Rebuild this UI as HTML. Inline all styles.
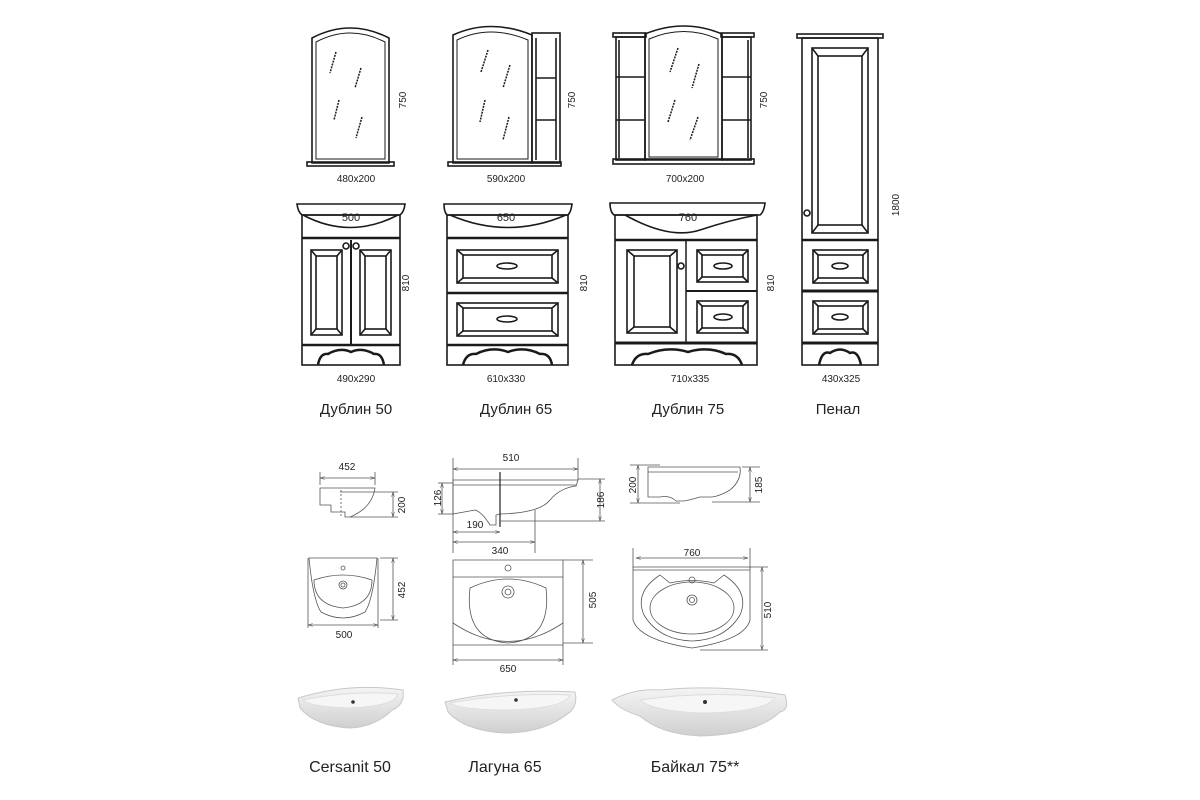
<!DOCTYPE html>
<html><head><meta charset="utf-8"><style>
html,body{margin:0;padding:0;background:#fff;}
svg{display:block}
text{font-family:"Liberation Sans",sans-serif;fill:#222}
.s{font-size:10px}
.n{font-size:15px}
</style></head><body>
<svg width="1200" height="800" viewBox="0 0 1200 800" xmlns="http://www.w3.org/2000/svg">
<defs>
<marker id="a" viewBox="0 0 10 10" refX="10" refY="5" markerWidth="6" markerHeight="6" orient="auto-start-reverse"><path d="M0,2 L10,5 L0,8" fill="none" stroke="#444"/></marker>
<linearGradient id="g" x1="0" y1="0" x2="0" y2="1"><stop offset="0" stop-color="#f4f4f4"/><stop offset="0.5" stop-color="#e2e2e2"/><stop offset="1" stop-color="#cfcfcf"/></linearGradient>
</defs>
<g fill="none" stroke="#1a1a1a" stroke-width="1.6">
<!-- Mirror 1 -->
<path d="M312,38 Q350,18 389,38 L389,163 L312,163 Z"/>
<path d="M316,42 Q350,24 385,42 L385,159 L316,159 Z" stroke-width="1"/>
<rect x="307" y="162" width="87" height="4"/>
<g stroke-width="1.5" stroke-dasharray="2 1"><line x1="336" y1="52" x2="330" y2="73"/><line x1="361" y1="68" x2="355" y2="88"/><line x1="339" y1="100" x2="334" y2="120"/><line x1="362" y1="117" x2="356" y2="138"/></g>
<!-- Mirror 2 -->
<path d="M453,35 Q490,18 532,35 L532,163 L453,163 Z"/>
<path d="M457,40 Q490,24 528,40 L528,159 L457,159 Z" stroke-width="1"/>
<rect x="532" y="33" width="28" height="130"/>
<line x1="536" y1="38" x2="536" y2="160"/><line x1="556" y1="38" x2="556" y2="160"/>
<line x1="536" y1="78" x2="556" y2="78"/><line x1="536" y1="120" x2="556" y2="120"/>
<rect x="448" y="162" width="113" height="4"/>
<g stroke-width="1.5" stroke-dasharray="2 1"><line x1="488" y1="50" x2="481" y2="72"/><line x1="510" y1="65" x2="503" y2="88"/><line x1="485" y1="100" x2="480" y2="122"/><line x1="509" y1="117" x2="503" y2="140"/></g>
<!-- Mirror 3 -->
<rect x="613" y="33" width="33" height="4"/><rect x="721" y="33" width="33" height="4"/>
<rect x="616" y="37" width="29" height="123"/><rect x="722" y="37" width="29" height="123"/>
<line x1="619" y1="40" x2="619" y2="158"/><line x1="748" y1="40" x2="748" y2="158"/>
<line x1="616" y1="77" x2="645" y2="77"/><line x1="616" y1="120" x2="645" y2="120"/>
<line x1="722" y1="77" x2="751" y2="77"/><line x1="722" y1="120" x2="751" y2="120"/>
<path d="M645,34 Q684,18 722,34 L722,160 L645,160 Z"/>
<path d="M649,39 Q684,24 718,39 L718,157 L649,157 Z" stroke-width="1"/>
<rect x="613" y="159" width="141" height="5"/>
<g stroke-width="1.5" stroke-dasharray="2 1"><line x1="678" y1="48" x2="670" y2="72"/><line x1="699" y1="64" x2="692" y2="88"/><line x1="675" y1="100" x2="668" y2="122"/><line x1="698" y1="117" x2="690" y2="140"/></g>
<!-- Penal -->
<rect x="797" y="34" width="86" height="4"/>
<rect x="802" y="38" width="76" height="327"/>
<rect x="812" y="48" width="56" height="185"/><rect x="818" y="56" width="44" height="169"/>
<line x1="812" y1="48" x2="818" y2="56"/><line x1="868" y1="48" x2="862" y2="56"/><line x1="812" y1="233" x2="818" y2="225"/><line x1="868" y1="233" x2="862" y2="225"/>
<circle cx="807" cy="213" r="3"/>
<line x1="802" y1="240" x2="878" y2="240" stroke-width="2.5"/>
<rect x="813" y="250" width="55" height="33"/><rect x="818" y="255" width="45" height="23"/>
<path d="M813,250 l5,5 M868,250 l-5,5 M813,283 l5,-5 M868,283 l-5,-5"/>
<line x1="802" y1="291" x2="878" y2="291" stroke-width="3"/>
<rect x="813" y="301" width="55" height="33"/><rect x="818" y="306" width="45" height="23"/>
<path d="M813,301 l5,5 M868,301 l-5,5 M813,334 l5,-5 M868,334 l-5,-5"/>
<line x1="802" y1="343" x2="878" y2="343" stroke-width="3"/>
<ellipse cx="840" cy="266" rx="8" ry="3"/><ellipse cx="840" cy="317" rx="8" ry="3"/>
<path d="M819,365 Q822,350 830,353 Q840,346 850,353 Q858,350 861,365" stroke-width="2.5"/>
<!-- Vanity 50 -->
<path d="M297,204 L405,204 Q404,212 400,215 L302,215 Q298,212 297,204 Z"/>
<path d="M303,215 Q350,240 398,215"/>
<rect x="302" y="215" width="98" height="150"/>
<line x1="302" y1="238" x2="400" y2="238" stroke-width="2.5"/>
<line x1="351" y1="240" x2="351" y2="344" stroke-width="2"/>
<rect x="311" y="250" width="31" height="85"/><rect x="316" y="256" width="21" height="73"/>
<path d="M311,250 l5,6 M342,250 l-5,6 M311,335 l5,-6 M342,335 l-5,-6"/>
<rect x="360" y="250" width="31" height="85"/><rect x="365" y="256" width="21" height="73"/>
<path d="M360,250 l5,6 M391,250 l-5,6 M360,335 l5,-6 M391,335 l-5,-6"/>
<circle cx="346" cy="246" r="3"/><circle cx="356" cy="246" r="3"/>
<line x1="302" y1="345" x2="400" y2="345" stroke-width="2.5"/>
<path d="M318,365 Q320,353 328,354 Q340,347 351,352 Q362,347 374,354 Q382,353 384,365" stroke-width="2.5"/>
<!-- Vanity 65 -->
<path d="M444,204 L572,204 Q571,212 568,215 L447,215 Q444,212 444,204 Z"/>
<path d="M450,215 Q508,240 566,215"/>
<rect x="447" y="215" width="121" height="150"/>
<line x1="447" y1="238" x2="568" y2="238" stroke-width="2.5"/>
<rect x="457" y="250" width="101" height="33"/><rect x="463" y="255" width="89" height="23"/>
<path d="M457,250 l6,5 M558,250 l-6,5 M457,283 l6,-5 M558,283 l-6,-5"/>
<line x1="447" y1="293" x2="568" y2="293" stroke-width="2.5"/>
<rect x="457" y="303" width="101" height="33"/><rect x="463" y="308" width="89" height="23"/>
<path d="M457,303 l6,5 M558,303 l-6,5 M457,336 l6,-5 M558,336 l-6,-5"/>
<ellipse cx="507" cy="266" rx="10" ry="3"/><ellipse cx="507" cy="319" rx="10" ry="3"/>
<line x1="447" y1="345" x2="568" y2="345" stroke-width="2.5"/>
<path d="M463,365 Q466,353 476,354 Q492,346 508,352 Q524,346 540,354 Q550,353 552,365" stroke-width="2.5"/>
<!-- Vanity 75 -->
<path d="M610,203 L765,203 Q764,212 760,215 L614,215 Q610,212 610,203 Z"/>
<path d="M625,215 Q670,240 700,230 Q730,220 757,215"/>
<rect x="615" y="215" width="142" height="150"/>
<line x1="615" y1="240" x2="757" y2="240" stroke-width="2.5"/>
<line x1="686" y1="240" x2="686" y2="343" stroke-width="1.5"/>
<rect x="627" y="250" width="50" height="83"/><rect x="634" y="256" width="36" height="71"/>
<path d="M627,250 l7,6 M677,250 l-7,6 M627,333 l7,-6 M677,333 l-7,-6"/>
<circle cx="681" cy="266" r="3"/>
<rect x="697" y="250" width="51" height="32"/><rect x="702" y="255" width="41" height="22"/>
<path d="M697,250 l5,5 M748,250 l-5,5 M697,282 l5,-5 M748,282 l-5,-5"/>
<line x1="686" y1="291" x2="757" y2="291" stroke-width="2"/>
<rect x="697" y="301" width="51" height="32"/><rect x="702" y="306" width="41" height="22"/>
<path d="M697,301 l5,5 M748,301 l-5,5 M697,333 l5,-5 M748,333 l-5,-5"/>
<ellipse cx="723" cy="266" rx="9" ry="3"/><ellipse cx="723" cy="317" rx="9" ry="3"/>
<line x1="615" y1="343" x2="757" y2="343" stroke-width="3"/>
<path d="M632,365 Q636,353 648,354 Q668,346 688,352 Q708,346 726,354 Q738,353 742,365" stroke-width="2.5"/>
</g>
<!-- top labels -->
<g class="s" text-anchor="middle">
<text x="356" y="182">480x200</text><text x="506" y="182">590x200</text><text x="685" y="182">700x200</text>
<text x="351" y="221" font-size="11">500</text><text x="506" y="221" font-size="11">650</text><text x="688" y="221" font-size="11">760</text>
<text x="356" y="382">490x290</text><text x="506" y="382">610x330</text><text x="690" y="382">710x335</text><text x="841" y="382">430x325</text>
<text transform="translate(406,100) rotate(-90)">750</text>
<text transform="translate(575,100) rotate(-90)">750</text>
<text transform="translate(767,100) rotate(-90)">750</text>
<text transform="translate(409,283) rotate(-90)">810</text>
<text transform="translate(587,283) rotate(-90)">810</text>
<text transform="translate(774,283) rotate(-90)">810</text>
<text transform="translate(899,205) rotate(-90)">1800</text>
</g>
<g class="n" text-anchor="middle">
<text x="356" y="414">Дублин 50</text><text x="516" y="414">Дублин 65</text><text x="688" y="414">Дублин 75</text><text x="838" y="414">Пенал</text>
</g>
<!-- technical basins -->
<g fill="none" stroke="#555" stroke-width="0.8">
<line x1="320" y1="472" x2="320" y2="485"/><line x1="375" y1="472" x2="375" y2="485"/>
<line x1="320" y1="478" x2="375" y2="478" marker-start="url(#a)" marker-end="url(#a)"/>
<path d="M320,488 L375,488 Q372,508 350,517 L345,517 L345,512 L331,512 L331,505 L320,505 Z"/>
<line x1="341" y1="490" x2="341" y2="516" stroke-dasharray="2 2"/>
<line x1="340" y1="492" x2="398" y2="492"/><line x1="350" y1="517" x2="398" y2="517"/>
<line x1="393" y1="492" x2="393" y2="517" marker-start="url(#a)" marker-end="url(#a)"/>
<path d="M309,558 L377,558 Q373,600 365,612 Q343,624 321,612 Q313,600 309,558 Z"/>
<path d="M314,580 Q343,570 372,580 Q372,605 343,608 Q314,605 314,580 Z"/>
<circle cx="343" cy="585" r="4"/><circle cx="343" cy="585" r="2"/><circle cx="343" cy="568" r="2"/>
<line x1="308" y1="558" x2="308" y2="628"/><line x1="378" y1="558" x2="378" y2="628"/>
<line x1="308" y1="625" x2="378" y2="625" marker-start="url(#a)" marker-end="url(#a)"/>
<line x1="380" y1="558" x2="398" y2="558"/><line x1="380" y1="620" x2="398" y2="620"/>
<line x1="393" y1="558" x2="393" y2="620" marker-start="url(#a)" marker-end="url(#a)"/>
<line x1="453" y1="458" x2="453" y2="553"/><line x1="578" y1="458" x2="578" y2="480"/>
<line x1="453" y1="469" x2="578" y2="469" marker-start="url(#a)" marker-end="url(#a)"/>
<path d="M453,480 L578,480 L576,486 Q560,488 550,500 Q540,513 500,514 L496,515 L496,525 L490,525 Q482,512 475,510 L453,514 Z"/>
<path d="M453,485 L576,485"/>
<line x1="500" y1="472" x2="500" y2="527" stroke="#222" stroke-width="1.2"/>
<line x1="578" y1="479" x2="605" y2="479"/><line x1="500" y1="521" x2="605" y2="521"/>
<line x1="600" y1="479" x2="600" y2="521" marker-start="url(#a)" marker-end="url(#a)"/>
<line x1="438" y1="483" x2="453" y2="483"/><line x1="438" y1="514" x2="453" y2="514"/>
<line x1="442" y1="483" x2="442" y2="514" marker-start="url(#a)" marker-end="url(#a)"/>
<line x1="453" y1="532" x2="500" y2="532" marker-start="url(#a)" marker-end="url(#a)"/>
<line x1="535" y1="510" x2="535" y2="553"/>
<line x1="453" y1="542" x2="535" y2="542" marker-start="url(#a)" marker-end="url(#a)"/>
<path d="M453,560 L563,560 L563,645 L453,645 Z"/>
<line x1="453" y1="577" x2="563" y2="577"/>
<path d="M453,623 Q508,660 563,623"/>
<path d="M470,588 Q508,570 546,588 Q552,640 508,643 Q464,640 470,588 Z"/>
<circle cx="508" cy="592" r="6"/><circle cx="508" cy="592" r="3"/><circle cx="508" cy="568" r="3"/>
<line x1="453" y1="645" x2="453" y2="665"/><line x1="563" y1="645" x2="563" y2="665"/>
<line x1="453" y1="660" x2="563" y2="660" marker-start="url(#a)" marker-end="url(#a)"/>
<line x1="563" y1="560" x2="593" y2="560"/><line x1="563" y1="643" x2="593" y2="643"/>
<line x1="583" y1="560" x2="583" y2="643" marker-start="url(#a)" marker-end="url(#a)"/>
<line x1="630" y1="465" x2="660" y2="465"/><line x1="630" y1="503" x2="680" y2="503"/>
<line x1="638" y1="465" x2="638" y2="503" marker-start="url(#a)" marker-end="url(#a)"/>
<path d="M648,467 L740,467 Q742,480 730,490 Q720,496 712,497 L700,497 Q690,500 684,501 L676,501 Q670,495 660,497 L648,497 Z"/>
<line x1="648" y1="472" x2="738" y2="472"/>
<line x1="742" y1="467" x2="760" y2="467"/><line x1="712" y1="502" x2="760" y2="502"/>
<line x1="750" y1="467" x2="750" y2="502" marker-start="url(#a)" marker-end="url(#a)"/>
<line x1="633" y1="548" x2="633" y2="568"/><line x1="750" y1="548" x2="750" y2="568"/>
<line x1="636" y1="558" x2="748" y2="558" marker-start="url(#a)" marker-end="url(#a)"/>
<path d="M633,567 L750,567 L750,620 Q745,640 692,648 Q639,640 633,620 Z"/>
<line x1="633" y1="570" x2="750" y2="570"/>
<path d="M660,575 L670,583 Q692,578 714,583 L724,575 Q750,592 740,615 Q725,640 692,641 Q659,640 644,615 Q634,592 660,575 Z"/>
<ellipse cx="692" cy="608" rx="42" ry="26"/>
<circle cx="692" cy="600" r="5"/><circle cx="692" cy="600" r="2.5"/><circle cx="692" cy="580" r="3"/>
<line x1="750" y1="567" x2="768" y2="567"/><line x1="700" y1="650" x2="768" y2="650"/>
<line x1="762" y1="567" x2="762" y2="650" marker-start="url(#a)" marker-end="url(#a)"/>
</g>
<g class="s" text-anchor="middle" fill="#333">
<text x="347" y="470">452</text>
<text transform="translate(405,505) rotate(-90)">200</text>
<text transform="translate(405,590) rotate(-90)">452</text>
<text x="344" y="638">500</text>
<text x="511" y="461">510</text>
<text transform="translate(441,498) rotate(-90)">126</text>
<text transform="translate(604,500) rotate(-90)">186</text>
<text x="475" y="528">190</text>
<text x="500" y="554">340</text>
<text transform="translate(596,600) rotate(-90)">505</text>
<text x="508" y="672">650</text>
<text transform="translate(636,485) rotate(-90)">200</text>
<text transform="translate(762,485) rotate(-90)">185</text>
<text x="692" y="556">760</text>
<text transform="translate(771,610) rotate(-90)">510</text>
</g>
<!-- photos -->
<g stroke="#c8c8c8" stroke-width="1">
<path d="M298,698 Q350,682 403,690 Q405,705 392,710 Q375,727 350,728 Q315,726 300,708 Z" fill="url(#g)"/>
<path d="M303,700 Q350,690 398,694 Q395,706 350,708 Q310,707 303,700 Z" fill="#f6f6f6" stroke="#ddd"/>
<path d="M445,702 Q505,688 575,692 Q578,705 570,712 Q545,733 505,733 Q465,731 448,712 Z" fill="url(#g)"/>
<path d="M450,703 Q510,692 570,695 Q565,708 510,710 Q460,710 450,703 Z" fill="#f6f6f6" stroke="#ddd"/>
<path d="M612,700 Q635,688 660,690 Q720,684 785,695 Q790,710 780,712 Q755,735 700,736 Q660,734 640,716 Q620,710 612,700 Z" fill="url(#g)"/>
<path d="M640,700 Q710,690 775,698 Q765,712 705,713 Q655,712 640,700 Z" fill="#f6f6f6" stroke="#ddd"/>
</g>
<circle cx="353" cy="702" r="1.8" fill="#333"/><circle cx="516" cy="700" r="1.8" fill="#333"/><circle cx="705" cy="702" r="2" fill="#333"/>
<g font-size="16" text-anchor="middle">
<text x="350" y="772">Cersanit 50</text><text x="505" y="772">Лагуна 65</text><text x="695" y="772">Байкал 75**</text>
</g>
</svg>
</body></html>
